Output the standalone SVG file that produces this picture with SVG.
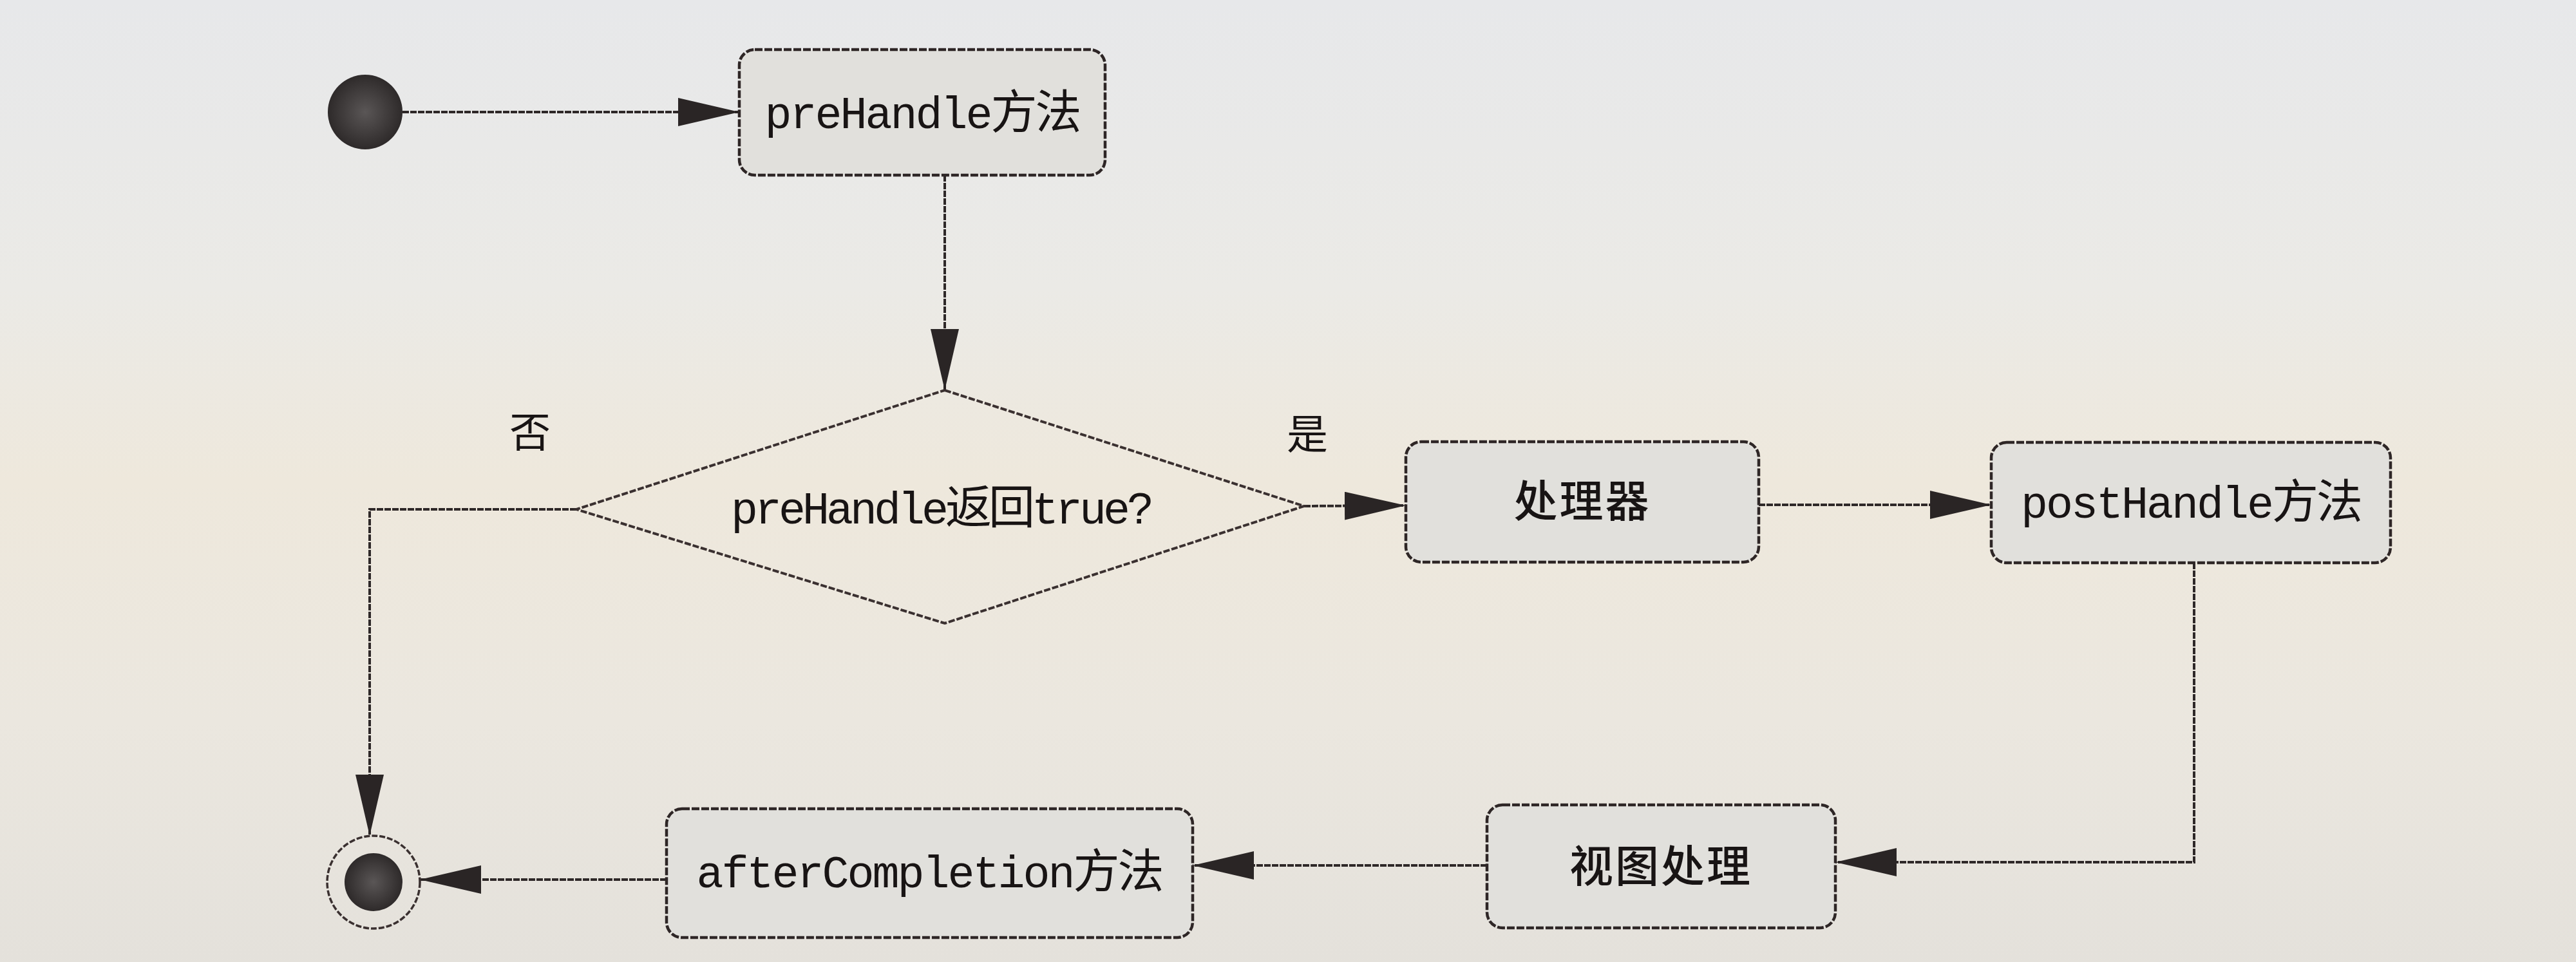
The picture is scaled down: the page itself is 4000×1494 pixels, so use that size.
<svg xmlns="http://www.w3.org/2000/svg" width="4000" height="1494" viewBox="0 0 4000 1494">
  <defs>
    <linearGradient id="paper" x1="0" y1="0" x2="0" y2="1">
      <stop offset="0" stop-color="#e7e8ea"/>
      <stop offset="0.3" stop-color="#ebeae6"/>
      <stop offset="0.5" stop-color="#eee8dc"/>
      <stop offset="0.75" stop-color="#ebe7df"/>
      <stop offset="1" stop-color="#e4e1db"/>
    </linearGradient>
    <radialGradient id="ball" cx="0.5" cy="0.5" r="0.5">
      <stop offset="0" stop-color="#5a5656"/>
      <stop offset="1" stop-color="#2e2a2a"/>
    </radialGradient>
    <marker id="arrow" viewBox="0 0 95 44" refX="95" refY="22" markerWidth="95" markerHeight="44" markerUnits="userSpaceOnUse" orient="auto">
      <path d="M0,0 L95,22 L0,44 Z" fill="#2a2525"/>
    </marker>
    <style>
      .box { fill: #e1e0dc; stroke: #2e2626; stroke-width: 4.5; stroke-dasharray: 12 3; }
      .dia { fill: none; stroke: #3a3030; stroke-width: 4; stroke-dasharray: 10 3; }
      .conn { fill: none; stroke: #2e2828; stroke-width: 4; stroke-dasharray: 10 2; marker-end: url(#arrow); }
      .lbl { font-family: "Liberation Mono", "Noto Sans CJK SC", monospace; font-size: 70px; letter-spacing: -3px; fill: #181414; text-anchor: middle; }
      .cjk { font-family: "Noto Sans CJK SC", sans-serif; font-size: 72px; }
      .zh { font-family: "Noto Sans CJK SC", sans-serif; font-size: 68px; font-weight: 500; fill: #181414; text-anchor: middle; letter-spacing: 3px; }
      .yn { font-family: "Noto Sans CJK SC", sans-serif; font-size: 64px; fill: #181414; text-anchor: middle; }
    </style>
  </defs>
  <rect x="0" y="0" width="4000" height="1494" fill="url(#paper)"/>

  <g id="connectors">
    <path class="conn" d="M625,174 L1148,174"/>
    <path class="conn" d="M1467,272 L1467,606"/>
    <path class="conn" d="M2025,786 L2183,785"/>
    <path class="conn" d="M2731,784 L3092,784"/>
    <path class="conn" d="M3407,874 L3407,1339 L2850,1339"/>
    <path class="conn" d="M2309,1344 L1852,1344"/>
    <path class="conn" d="M1035,1366 L652,1366"/>
    <path class="conn" d="M895,791 L574,791 L574,1298"/>
  </g>

  <g id="start">
    <circle cx="567" cy="174" r="58" fill="url(#ball)"/>
  </g>

  <g id="preHandle">
    <rect class="box" x="1148" y="77" width="568" height="195" rx="24" ry="24"/>
    <text class="lbl" x="1432" y="199">preHandle<tspan class="cjk">方法</tspan></text>
  </g>

  <g id="decision">
    <path class="dia" d="M1467,606 L2025,786 L1467,968 L895,791 Z"/>
    <text class="lbl" x="1461" y="813" style="letter-spacing:-5px">preHandle<tspan class="cjk">返回</tspan>true?</text>
  </g>

  <g id="label-no">
    <text class="yn" x="823" y="694">否</text>
  </g>
  <g id="label-yes">
    <text class="yn" x="2030" y="697">是</text>
  </g>

  <g id="handler">
    <rect class="box" x="2183" y="686" width="548" height="187" rx="24" ry="24"/>
    <text class="zh" x="2457" y="803">处理器</text>
  </g>

  <g id="postHandle">
    <rect class="box" x="3092" y="687" width="620" height="187" rx="24" ry="24"/>
    <text class="lbl" x="3402" y="804">postHandle<tspan class="cjk">方法</tspan></text>
  </g>

  <g id="viewProcess">
    <rect class="box" x="2309" y="1250" width="541" height="191" rx="24" ry="24"/>
    <text class="zh" x="2579" y="1370">视图处理</text>
  </g>

  <g id="afterCompletion">
    <rect class="box" x="1035" y="1256" width="817" height="200" rx="24" ry="24"/>
    <text class="lbl" x="1443" y="1378">afterCompletion<tspan class="cjk">方法</tspan></text>
  </g>

  <g id="end">
    <circle cx="580" cy="1370" r="72" fill="none" stroke="#3a3030" stroke-width="3.5" stroke-dasharray="9 3"/>
    <circle cx="580" cy="1370" r="45" fill="url(#ball)"/>
  </g>
</svg>
